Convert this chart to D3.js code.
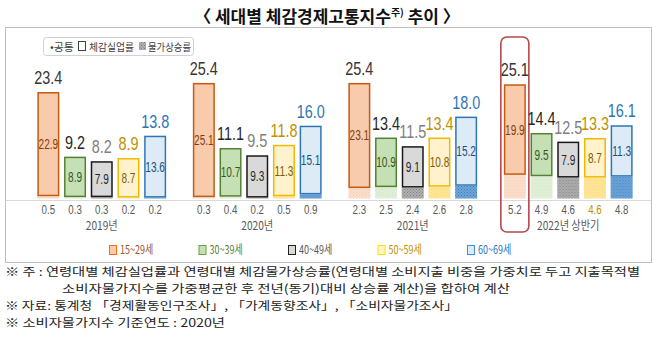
<!DOCTYPE html>
<html><head><meta charset="utf-8">
<script src="https://cdn.jsdelivr.net/npm/d3@7"></script>
<style>
body{margin:0;background:#fff;}
svg{display:block;}
</style></head>
<body>
<svg id="c" width="658" height="346"></svg>
<script>
const groups = ["2019년","2020년","2021년","2022년 상반기"];
const ages = ["15~29세","30~39세","40~49세","50~59세","60~69세"];
const totals = [[23.4,9.2,8.2,8.9,13.8],[25.4,11.1,9.5,11.8,16.0],[25.4,13.4,11.5,13.4,18.0],[25.1,14.4,12.5,13.3,16.1]];
const unemployment = [[22.9,8.9,7.9,8.7,13.6],[25.1,10.7,9.3,11.3,15.1],[23.1,10.9,9.1,10.8,15.2],[19.9,9.5,7.9,8.7,11.3]];
const inflation = [[0.5,0.3,0.3,0.2,0.2],[0.3,0.4,0.2,0.5,0.9],[2.3,2.5,2.4,2.6,2.8],[5.2,4.9,4.6,4.6,4.8]];
const titleMain = "〈 세대별 체감경제고통지수";
const titleSup = "주)";
const titleEnd = " 추이 〉";
const legendTop = ["•공통","체감실업률","물가상승률"];
const notes = [
 "※ 주 : 연령대별 체감실업률과 연령대별 체감물가상승률(연령대별 소비지출 비중을 가중치로 두고 지출목적별",
 "소비자물가지수를 가중평균한 후 전년(동기)대비 상승률 계산)을 합하여 계산",
 "※ 자료: 통계청 「경제활동인구조사」, 「가계동향조사」, 「소비자물가조사」",
 "※ 소비자물가지수 기준연도 : 2020년"
];

const fillC   = ["#F8CBAD","#C5E0B4","#D9D9D9","#FFF2CC","#DDEBF7"];
const strokeC = ["#C55A11","#548235","#1A1A1A","#F2B800","#2E75B6"];
const totalC  = ["#3B3333","#262626","#808080","#BF9000","#2E75B6"];
const innerC  = ["#843C0C","#375623","#262626","#7F6000","#1F4E79"];
const lowBase = ["#FBE0CF","#E2F0D9","#B0B0B0","#FFE699","#6FA6DA"];
const lowDot  = ["#F6C9AC","#CFE6C2","#7F7F7F","#F8D878","#3F7FC0"];
const legendTxtC = ["#A0522D","#548235","#595959","#BF9000","#2E75B6"];

const numFont = "'Liberation Sans',Arial,sans-serif";
const krFont = "'Noto Sans CJK KR','Noto Sans',sans-serif";

const svg = d3.select("#c");
const defs = svg.append("defs");
ages.forEach((a,i)=>{
  const p = defs.append("pattern").attr("id","pat"+i).attr("patternUnits","userSpaceOnUse")
    .attr("width",3).attr("height",3);
  p.append("rect").attr("width",3).attr("height",3).attr("fill",lowBase[i]);
  p.append("rect").attr("x",0).attr("y",0).attr("width",1).attr("height",1).attr("fill",lowDot[i]);
  p.append("rect").attr("x",1.5).attr("y",1.5).attr("width",1).attr("height",1).attr("fill",lowDot[i]);
});

function cText(parent, x, yy, txt, size, color, sx, font){
  return parent.append("text").attr("transform",`translate(${x},${yy}) scale(${sx},1)`)
    .attr("text-anchor","middle").attr("font-family",font||numFont).attr("font-size",size)
    .attr("fill",color).text(txt);
}

// title
const t = svg.append("text").attr("x",327).attr("y",23).attr("text-anchor","middle")
  .attr("font-family",krFont).attr("font-weight","bold").attr("font-size",17).attr("fill","#111");
t.append("tspan").text(titleMain);
t.append("tspan").attr("font-size",10).attr("dy",-7).text(titleSup);
t.append("tspan").attr("dy",7).text(titleEnd);

// outer box
svg.append("rect").attr("x",5.5).attr("y",27.5).attr("width",646).attr("height",235)
  .attr("fill","none").attr("stroke","#BFBFBF").attr("stroke-width",1);

// scales
const x0 = d3.scaleBand().domain(groups).range([24,646]).padding(0);
const x1 = d3.scaleBand().domain(ages).range([0,x0.bandwidth()]).paddingInner(0.176).paddingOuter(0.5);
const y = d3.scaleLinear().domain([0,30]).range([198.5,198.5-30*4.55]);

// baseline
svg.append("line").attr("x1",6).attr("x2",651).attr("y1",200.5).attr("y2",200.5)
  .attr("stroke","#D9D9D9").attr("stroke-width",1);

// highlight box for 2022 first bar
const hx = x0(groups[3]) + x1(ages[0]);
svg.append("rect").attr("x",hx-3).attr("y",37).attr("width",x1.bandwidth()+6).attr("height",195)
  .attr("rx",6).attr("fill","none").attr("stroke","#B8474D").attr("stroke-width",1.6);

groups.forEach((g,gi)=>{
  const gg = svg.append("g").attr("transform",`translate(${x0(g)},0)`);
  ages.forEach((a,ai)=>{
    const bx = x1(a), bw = x1.bandwidth();
    const inf = inflation[gi][ai], un = unemployment[gi][ai], tot = totals[gi][ai];
    gg.append("rect").attr("x",bx).attr("width",bw).attr("y",y(inf)).attr("height",y(0)-y(inf))
      .attr("fill",`url(#pat${ai})`);
    gg.append("rect").attr("x",bx+0.75).attr("width",bw-1.5).attr("y",y(tot)+0.75)
      .attr("height",Math.max(0,y(inf)-y(tot)-1.5))
      .attr("fill",fillC[ai]).attr("stroke",strokeC[ai]).attr("stroke-width",1.5);
    cText(gg, bx+bw/2, y(tot)-8, tot.toFixed(1), 18, totalC[ai], 0.8);
    cText(gg, bx+bw/2, (y(tot)+y(inf))/2+5, un.toFixed(1), 14, innerC[ai], 0.72);
    cText(gg, bx+bw/2, 214, inf.toFixed(1), 13.5, (gi===3&&ai===3)?"#BF9000":"#595959", 0.72);
  });
  cText(gg, x1(ages[2])+x1.bandwidth()/2, 230, g, 12, "#595959", 0.85, krFont);
});

// top legend
const lg = svg.append("g");
lg.append("rect").attr("x",43.5).attr("y",37.5).attr("width",150).attr("height",18).attr("rx",3)
  .attr("fill","#fff").attr("stroke","#D0D0D0");
lg.append("text").attr("x",50).attr("y",50.5).attr("font-family",krFont).attr("font-size",10.5)
  .attr("fill","#404040").attr("textLength",24).attr("lengthAdjust","spacingAndGlyphs").text(legendTop[0]);
lg.append("rect").attr("x",78.5).attr("y",41.5).attr("width",7).attr("height",9)
  .attr("fill","#fff").attr("stroke","#404040");
lg.append("text").attr("x",89).attr("y",50.5).attr("font-family",krFont).attr("font-size",10.5)
  .attr("fill","#404040").attr("textLength",45).attr("lengthAdjust","spacingAndGlyphs").text(legendTop[1]);
lg.append("rect").attr("x",139).attr("y",42).attr("width",7).attr("height",8).attr("fill","url(#pat2)");
lg.append("text").attr("x",148).attr("y",50.5).attr("font-family",krFont).attr("font-size",10.5)
  .attr("fill","#404040").attr("textLength",43).attr("lengthAdjust","spacingAndGlyphs").text(legendTop[2]);

// bottom legend
const legX = d3.scalePoint().domain(ages).range([109,467]);
ages.forEach((a,i)=>{
  const lx = legX(a);
  svg.append("rect").attr("x",lx+0.5).attr("y",245.5).attr("width",7).attr("height",9)
    .attr("fill",fillC[i]).attr("stroke",d3.color(strokeC[i]).brighter(0.6)).attr("stroke-width",1);
  svg.append("text").attr("transform",`translate(${lx+11},254) scale(0.75,1)`)
    .attr("font-family",krFont).attr("font-size",12).attr("fill",legendTxtC[i]).text(a);
});

// notes
const noteX = [5,62,5,5];
const noteY = [276,293,310,327];
const noteW = [635,448,453,220];
notes.forEach((n,i)=>{
  svg.append("text").attr("x",noteX[i]).attr("y",noteY[i]).attr("font-family",krFont).attr("font-size",11.5)
    .attr("fill","#222").attr("textLength",noteW[i]).attr("lengthAdjust","spacingAndGlyphs").text(n);
});
</script>
</body></html>
